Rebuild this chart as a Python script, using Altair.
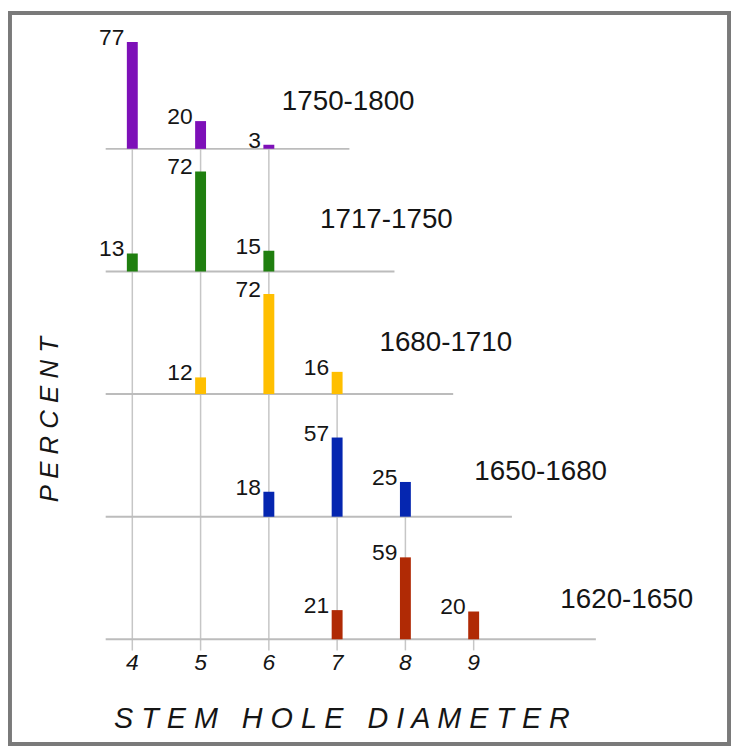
import altair as alt
import pandas as pd

# ---- data (top panel first) ----
periods = ["1750-1800", "1717-1750", "1680-1710", "1650-1680", "1620-1650"]
colors = ["#7d10b8", "#1f7f0f", "#ffbf00", "#0526b0", "#b02a05"]

diam_1750_1800 = [4, 5, 6]
pct_1750_1800 = [77, 20, 3]
diam_1717_1750 = [4, 5, 6]
pct_1717_1750 = [13, 72, 15]
diam_1680_1710 = [5, 6, 7]
pct_1680_1710 = [12, 72, 16]
diam_1650_1680 = [6, 7, 8]
pct_1650_1680 = [18, 57, 25]
diam_1620_1650 = [7, 8, 9]
pct_1620_1650 = [21, 59, 20]

ticks = [4, 5, 6, 7, 8, 9]

# ---- layout (in axis units) ----
BASE0 = 75.4          # baseline of bottom panel (percent units)
STEP = 88.3           # vertical spacing between panels
baseline_start = 3.61
baseline_end = [7.18, 7.84, 8.70, 9.56, 10.79]
label_x = [6.19, 6.75, 7.62, 9.01, 10.27]
label_rise = [34, 37, 37, 32, 28]

FONT = "Liberation Sans, Arial, Helvetica, sans-serif"
XS = alt.Scale(domain=[2.2808, 12.6676], nice=False, zero=False)
YS = alt.Scale(domain=[0, 526.43], nice=False, zero=False)

series = [
    (diam_1750_1800, pct_1750_1800),
    (diam_1717_1750, pct_1717_1750),
    (diam_1680_1710, pct_1680_1710),
    (diam_1650_1680, pct_1650_1680),
    (diam_1620_1650, pct_1620_1650),
]

def base_of(i):
    return BASE0 + (len(periods) - 1 - i) * STEP

bar_rows, base_rows, lab_rows = [], [], []
for i, (p, (ds, ps)) in enumerate(zip(periods, series)):
    b = base_of(i)
    for d, v in zip(ds, ps):
        bar_rows.append({"period": p, "x": d, "pct": v, "base": b, "top": b + v})
    base_rows.append({"x": baseline_start, "x2": baseline_end[i], "y": b})
    lab_rows.append({"period": p, "x": label_x[i], "y": b + label_rise[i]})

bars_df = pd.DataFrame(bar_rows)
base_df = pd.DataFrame(base_rows)
lab_df = pd.DataFrame(lab_rows)

grid_rows = []
for t in ticks:
    first = next(i for i, (ds, _) in enumerate(series) if t in ds)
    grid_rows.append({"x": t, "y": base_of(first), "y2": BASE0 - 8})
grid_df = pd.DataFrame(grid_rows)

tick_df = pd.DataFrame({"x": ticks, "y": [BASE0 - 17] * len(ticks)})
title_df = pd.DataFrame({"x": [7.07], "y": [17.9],
                         "t": ["S T E M \u00a0 H O L E \u00a0 D I A M E T E R"]})
ytitle_df = pd.DataFrame({"x": [2.80], "y": [233.6], "t": ["P E R C E N T"]})

grid = alt.Chart(grid_df).mark_rule(color="#c6c6c6", strokeWidth=1.5).encode(
    x=alt.X("x:Q", scale=XS, axis=None),
    y=alt.Y("y:Q", scale=YS, axis=None),
    y2="y2:Q",
)

baselines = alt.Chart(base_df).mark_rule(color="#bcbcbc", strokeWidth=2).encode(
    x=alt.X("x:Q", scale=XS, axis=None),
    x2="x2:Q",
    y=alt.Y("y:Q", scale=YS, axis=None),
)

bars = alt.Chart(bars_df).mark_bar(size=11).encode(
    x=alt.X("x:Q", scale=XS, axis=None),
    y=alt.Y("base:Q", scale=YS, axis=None),
    y2="top:Q",
    color=alt.Color("period:N", scale=alt.Scale(domain=periods, range=colors), legend=None),
)

values = alt.Chart(bars_df).mark_text(
    align="right", baseline="middle", dx=-8, dy=-4, fontSize=23, font=FONT, color="#151515"
).encode(
    x=alt.X("x:Q", scale=XS, axis=None),
    y=alt.Y("top:Q", scale=YS, axis=None),
    text="pct:Q",
)

period_labels = alt.Chart(lab_df).mark_text(
    align="left", baseline="middle", fontSize=28, font=FONT, color="#151515"
).encode(
    x=alt.X("x:Q", scale=XS, axis=None),
    y=alt.Y("y:Q", scale=YS, axis=None),
    text="period:N",
)

tick_labels = alt.Chart(tick_df).mark_text(
    align="center", baseline="middle", fontSize=23, fontStyle="italic", font=FONT, color="#151515"
).encode(
    x=alt.X("x:Q", scale=XS, axis=None),
    y=alt.Y("y:Q", scale=YS, axis=None),
    text="x:Q",
)

xtitle = alt.Chart(title_df).mark_text(
    align="center", baseline="middle", fontSize=29, fontStyle="italic", font=FONT, color="#151515"
).encode(
    x=alt.X("x:Q", scale=XS, axis=None),
    y=alt.Y("y:Q", scale=YS, axis=None),
    text="t:N",
)

ytitle = alt.Chart(ytitle_df).mark_text(
    align="center", baseline="middle", fontSize=26, fontStyle="italic", font=FONT,
    color="#151515", angle=270
).encode(
    x=alt.X("x:Q", scale=XS, axis=None),
    y=alt.Y("y:Q", scale=YS, axis=None),
    text="t:N",
)

chart = alt.layer(
    grid, baselines, bars, values, period_labels, tick_labels, xtitle, ytitle
).properties(
    width=725, height=737, padding=2, autosize="none", background="white"
).configure_view(
    stroke="#7a7a7a", strokeWidth=4
)

chart.save("out.html", embed_options={"renderer": "svg", "actions": False})
